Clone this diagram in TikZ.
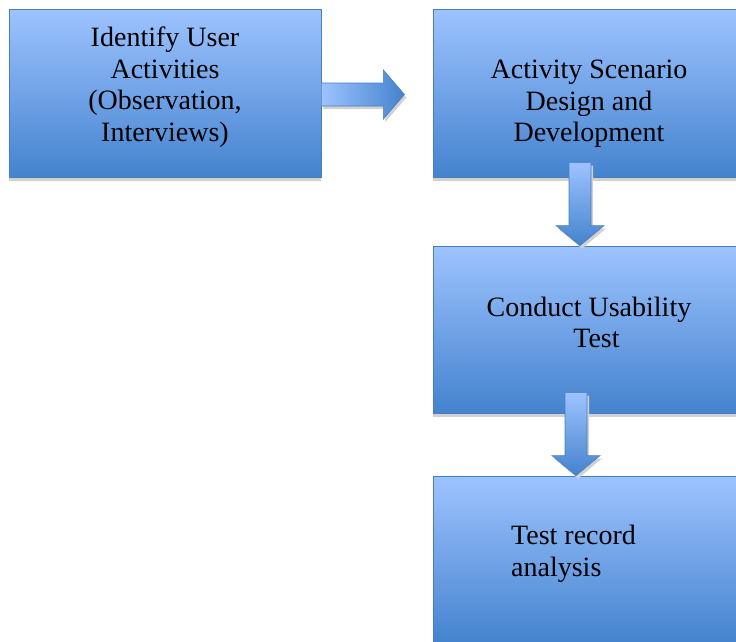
\documentclass[tikz,border=0pt]{standalone}
\usepackage{fontspec}
\setmainfont{Liberation Serif}
\usetikzlibrary{positioning,shadows,calc}
\definecolor{boxtop}{RGB}{157,195,255}
\definecolor{boxbot}{RGB}{68,131,206}
\definecolor{boxline}{RGB}{74,126,187}
\tikzset{
  stage/.style={draw=boxline, line width=0.8pt, top color=boxtop, bottom color=boxbot,
    minimum width=312pt, minimum height=168pt, inner sep=0pt,
    drop shadow={shadow xshift=0pt, shadow yshift=-4pt, fill=black!18, opacity=1}},
  stagetext/.style={font=\fontsize{28}{31.5}\selectfont, inner sep=0pt},
  flow/.style={draw=boxline, line width=0.6pt,
    drop shadow={shadow xshift=2pt, shadow yshift=-3pt, fill=black!18, opacity=1}}
}

\begin{document}
\begin{tikzpicture}[x=1pt,y=-1pt]
\clip (0,0) rectangle (736,641); % page size of the reference

% the four stages
\node[stage] (identify) at (165,93) {};
\node[stage] (design) at (589,93) {};
\node[stage, minimum height=167pt] (usability) at (589,329.5) {};
\node[stage] (analysis) at (589,560) {};

\node[stagetext, align=center] (identifytext) at ([yshift=6pt]identify.center)
  {Identify User\\Activities\\(Observation,\\Interviews)};
\node[stagetext, align=center] (designtext) at ([yshift=-11pt]design.center)
  {Activity Scenario\\Design and\\Development};
\node[stagetext, align=center] (usabilitytext) at ([yshift=7pt]usability.center)
  {Conduct Usability\\\hspace*{15pt}Test};
\node[stagetext, align=left, anchor=west] (analysistext) at (511,554)
  {Test record\\analysis};

% block arrow to the right
\coordinate (h0) at ([yshift=-1pt]identify.east);
\path[flow, left color=boxtop, right color=boxbot]
  ([yshift=11pt]h0) -- ++(62,0) -- ++(0,-13) -- ++(21,24.5) -- ++(-21,24.5)
  -- ++(0,-13) -- ++(-62,0) -- cycle;

% block arrows down, tip on the next stage
\foreach \tgt/\dx in {usability/-9, analysis/-13}{
\coordinate (tip-\tgt) at ([xshift=\dx pt]\tgt.north);
\path[flow, top color=boxtop, bottom color=boxbot]
  (tip-\tgt) -- ++(24,-20) -- ++(-13,0) -- ++(0,-63) -- ++(-22,0)
  -- ++(0,63) -- ++(-13,0) -- cycle;
}

\end{tikzpicture}
\end{document}
